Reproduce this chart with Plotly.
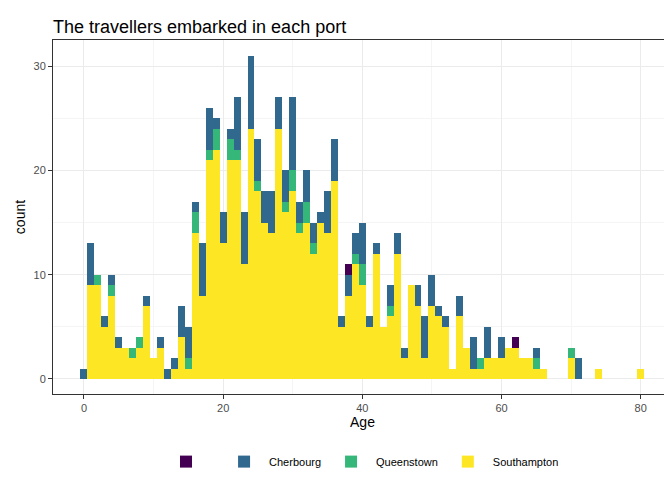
import plotly.graph_objects as go

ages = list(range(0, 81))
southampton = [0,9,9,5,8,3,3,2,3,7,2,3,0,1,4,1,14,8,21,22,13,21,21,11,24,18,15,14,24,16,
               18,14,15,12,15,14,19,5,8,11,9,5,12,5,6,12,2,9,7,2,7,6,5,1,6,3,1,1,2,2,
               2,3,3,2,2,1,1,0,0,0,2,0,0,0,1,0,0,0,0,0,1]
queenstown = [0,0,1,0,1,0,0,1,1,0,0,0,0,0,0,1,2,0,1,2,0,2,1,0,0,1,0,0,0,1,
              2,1,2,1,0,0,0,0,0,1,2,0,0,0,1,0,0,0,0,0,0,0,0,0,0,0,0,1,0,0,
              0,0,0,0,0,1,0,0,0,0,1,0,0,0,0,0,0,0,0,0,0]
cherbourg = [1,4,0,1,1,1,0,0,0,1,0,1,1,1,3,3,1,5,4,1,3,1,5,5,7,4,3,4,3,3,
             7,2,3,2,1,4,4,1,2,2,4,1,1,0,2,2,1,0,2,4,3,1,1,0,2,0,3,0,3,0,
             2,0,0,0,0,1,0,0,0,0,0,2,0,0,0,0,0,0,0,0,0]
unknown = [0]*81
unknown[38] = 1
unknown[62] = 1

series = [("Southampton", southampton, "#FDE725"),
          ("Queenstown", queenstown, "#35B779"),
          ("Cherbourg", cherbourg, "#31688E"),
          (" ", unknown, "#440154")]

fig = go.Figure()
for name, vals, col in series:
    fig.add_trace(go.Bar(x=ages, y=vals, name=name, marker=dict(color=col, line=dict(width=0)),
                         width=1.0))

fig.update_layout(
    barmode="stack", bargap=0,
    width=672, height=480,
    margin=dict(l=45, r=8, t=32, b=94),
    paper_bgcolor="white", plot_bgcolor="white",
    font=dict(family="Liberation Sans, Arial, sans-serif", color="#4d4d4d", size=11),
    title=dict(text="The travellers embarked in each port", x=0.067, xanchor="left", y=0.975,
               font=dict(size=18, color="black")),
    legend=dict(orientation="h", x=0.5, xanchor="center", y=-0.15, yanchor="top",
                traceorder="reversed", font=dict(size=11, color="black"), itemwidth=40),
    xaxis=dict(title=dict(text="Age", font=dict(size=14, color="black"), standoff=2),
               automargin=False,
               range=[-4.45, 84.5], tickvals=[0,20,40,60,80], showgrid=True, gridcolor="#ebebeb",
               zeroline=False, showline=True, linecolor="#333333", mirror=True, ticks="outside",
               ticklen=4, tickcolor="#333333", minor=dict(showgrid=True, gridcolor="#f5f5f5", dtick=10)),
    yaxis=dict(title=dict(text="count", font=dict(size=14, color="black"), standoff=4),
               automargin=False,
               range=[-1.44, 32.5], tickvals=[0,10,20,30], showgrid=True, gridcolor="#ebebeb",
               zeroline=False, showline=True, linecolor="#333333", mirror=True, ticks="outside",
               ticklen=4, tickcolor="#333333", minor=dict(showgrid=True, gridcolor="#f5f5f5", dtick=5)),
)
fig.write_html("out.html")
